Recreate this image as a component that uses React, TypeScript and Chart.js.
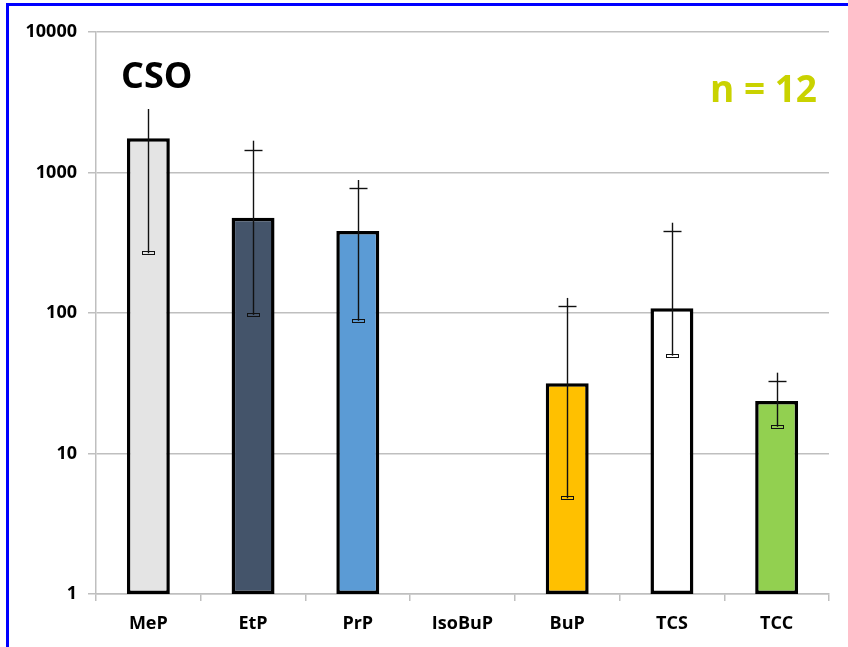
import { useEffect, useRef } from 'react';
import { Chart, registerables } from 'chart.js';

Chart.register(...registerables);

const categories = ['MeP', 'EtP', 'PrP', 'IsoBuP', 'BuP', 'TCS', 'TCC'];
const means = [1750, 477, 383, null, 31.6, 108, 23.6];
const errorUpperCap = [null, 1450, 772, null, 112, 381, 32.8];
const errorUpperEnd = [2830, 1684, 884, null, 128, 439, 37.6];
const errorLower = [266, 97, 88, null, 4.8, 49.7, 15.5];
const barColors = ['#e4e4e4', '#44546a', '#5b9bd5', '#ffffff', '#ffc000', '#ffffff', '#92d050'];
const yTickValues = [1, 10, 100, 1000, 10000];
const panelTitle = 'CSO';
const sampleLabel = 'n = 12';

const FONT = '"Open Sans", "DejaVu Sans", sans-serif';

const errorBarPlugin = {
  id: 'errorBars',
  afterDatasetsDraw(chart: any) {
    const ctx = chart.ctx;
    const meta = chart.getDatasetMeta(0);
    const y = chart.scales.y;
    ctx.save();
    ctx.strokeStyle = '#111111';
    meta.data.forEach((bar: any, i: number) => {
      const top = errorUpperEnd[i];
      const low = errorLower[i];
      if (top == null || low == null) return;
      const x = Math.round(bar.x) + 0.5;
      const pTop = y.getPixelForValue(top);
      const pLow = y.getPixelForValue(low);
      ctx.lineWidth = 1.4;
      ctx.beginPath();
      ctx.moveTo(x, pTop);
      ctx.lineTo(x, pLow);
      ctx.stroke();
      const cap = errorUpperCap[i];
      if (cap != null) {
        const pc = Math.round(y.getPixelForValue(cap)) + 0.5;
        ctx.beginPath();
        ctx.moveTo(x - 9, pc);
        ctx.lineTo(x + 9, pc);
        ctx.stroke();
      }
      ctx.lineWidth = 1;
      const pl = Math.round(pLow);
      ctx.strokeRect(x - 6, pl - 1.5, 12, 3);
    });
    ctx.restore();
  },
};

const textPlugin = {
  id: 'panelTexts',
  afterDraw(chart: any) {
    const ctx = chart.ctx;
    ctx.save();
    ctx.fillStyle = '#000000';
    ctx.font = `bold 36px ${FONT}`;
    ctx.textAlign = 'left';
    ctx.textBaseline = 'alphabetic';
    ctx.fillText(panelTitle, 121, 88);
    ctx.fillStyle = '#c9d200';
    ctx.font = `bold 37px ${FONT}`;
    ctx.textAlign = 'right';
    ctx.fillText(sampleLabel, 817, 102);
    ctx.restore();
  },
};

export default function App() {
  const ref = useRef<HTMLCanvasElement | null>(null);

  useEffect(() => {
    if (!ref.current) return;
    const chart = new Chart(ref.current, {
      type: 'bar',
      data: {
        labels: categories,
        datasets: [
          {
            data: means as any,
            backgroundColor: barColors,
            borderColor: '#000000',
            borderWidth: 3.5,
            borderSkipped: false,
            barPercentage: 0.41,
            categoryPercentage: 1,
          },
        ],
      },
      options: {
        animation: false,
        responsive: false,
        maintainAspectRatio: false,
        layout: { padding: { top: 32, right: 19, left: 0, bottom: 0 } },
        plugins: {
          legend: { display: false },
          tooltip: { enabled: false },
          title: { display: false },
        },
        scales: {
          x: {
            type: 'category',
            offset: true,
            grid: {
              offset: true,
              drawOnChartArea: false,
              drawTicks: true,
              tickLength: 7,
              color: '#bfbfbf',
              lineWidth: 1.5,
            },
            border: { display: true, color: '#bfbfbf', width: 1.5 },
            ticks: {
              color: '#000000',
              font: { family: FONT, weight: 'bold', size: 18 },
              padding: 12,
              maxRotation: 0,
              autoSkip: false,
            },
            afterFit: (scale: any) => {
              scale.height = 53;
            },
          },
          y: {
            type: 'logarithmic',
            min: 1,
            max: 10000,
            grid: {
              color: '#bfbfbf',
              lineWidth: 1.5,
              drawTicks: true,
              tickLength: 8,
            },
            border: { display: true, color: '#bfbfbf', width: 1.5 },
            ticks: {
              color: '#000000',
              font: { family: FONT, weight: 'bold', size: 18 },
              padding: 11,
              callback: (v: any) => String(v),
            },
            afterBuildTicks: (scale: any) => {
              scale.ticks = yTickValues.map((v) => ({ value: v }));
            },
            afterFit: (scale: any) => {
              scale.width = 96;
            },
          },
        },
      },
      plugins: [errorBarPlugin, textPlugin],
    });
    return () => chart.destroy();
  }, []);

  return (
    <div
      style={{
        position: 'fixed',
        left: 0,
        top: 0,
        width: 848,
        height: 647,
        overflow: 'hidden',
        background: '#ffffff',
      }}
    >
      <div
        style={{
          position: 'absolute',
          left: 6,
          top: 3,
          width: 900,
          height: 700,
          border: '3px solid #0000ff',
          boxSizing: 'border-box',
        }}
      />
      <canvas
        ref={ref}
        width={848}
        height={647}
        style={{ position: 'absolute', left: 0, top: 0, width: 848, height: 647 }}
      />
    </div>
  );
}
